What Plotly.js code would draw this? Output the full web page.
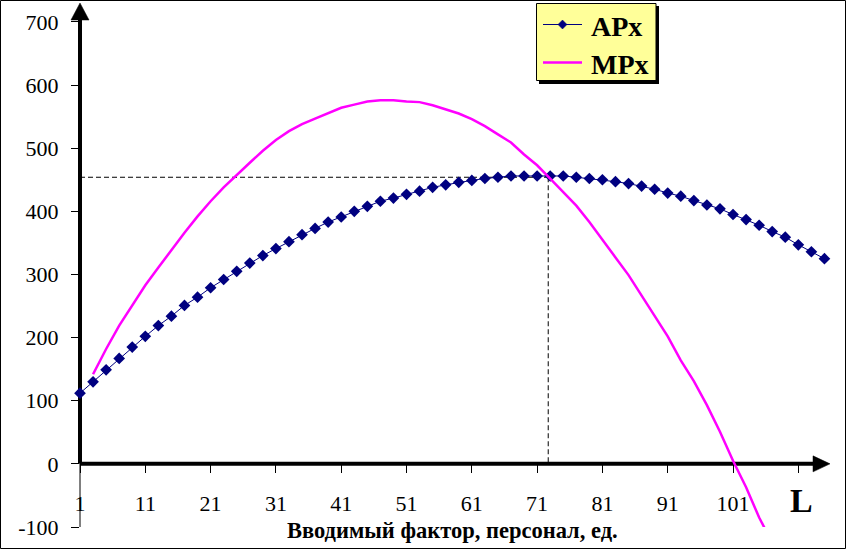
<!DOCTYPE html>
<html>
<head>
<meta charset="utf-8">
<script src="https://cdn.plot.ly/plotly-3.0.1.min.js"></script>
<style>
html,body{margin:0;padding:0;background:#fff;}
#chart{width:846px;height:549px;}
</style>
</head>
<body>
<div id="chart"></div>
<script>
// ---- data ----
const apxL = [1,3,5,7,9,11,13,15,17,19,21,23,25,27,29,31,33,35,37,39,41,43,45,47,49,51,53,55,57,59,
              61,63,65,67,69,71,73,75,77,79,81,83,85,87,89,91,93,95,97,99,101,103,105,107,109,111,113,115];
const apxValues = [112,130,149,167,185,202,219,234,251,264,279,292,305,318,330,341,352,363,373,383,
                   391,400,408,416,421,427,432,438,442,446,449,452,454,456,456,456,456,456,454,452,
                   450,447,444,440,435,429,424,417,410,404,395,387,378,368,359,347,336,325];
const mpxL = [3,5,7,9,11,13,15,17,19,21,23,25,27,29,31,33,35,37,39,41,43,45,47,49,51,53,55,57,59,61,
              63,65,67,69,71,73,75,77,79,81,83,85,87,89,91,93,95,97,99,101,103,105,107];
const mpxValues = [142,182,219,252,283,311,339,366,392,416,438,458,477,496,513,527,538,547,556,564,
                   569,574,576,576,574,573,568,561,555,546,535,522,509,490,473,452,431,409,383,354,
                   327,299,266,235,202,164,131,93,51,5,-37,-85,-125];
const xTickVals = [1,11,21,31,41,51,61,71,81,91,101,111];
const xTickText = ['1','11','21','31','41','51','61','71','81','91','101',''];
const yTickVals = [-100,0,100,200,300,400,500,600,700];
const yTickText = ['-100','0','100','200','300','400','500','600','700'];
const apxMax = 454;   // level of the horizontal dashed guide
const lStar = 72.7;   // position of the vertical dashed guide
const seriesNames = ['APx','MPx'];
const seriesColors = ['#000080','#FF00FF'];
const xTitle = 'Вводимый фактор, персонал, ед.';
const axisLetter = 'L';

// ---- geometry ----
const W = 846, H = 549;
const M = {l:80, r:16, t:3, b:22};
const PW = W - M.l - M.r, PH = H - M.t - M.b;
const xMin = 1, xMax = 115.85, yMin = -100, yMax = 730;
const px = L => (L - xMin) / (xMax - xMin);
const py = v => (v - yMin) / (yMax - yMin);
const dxp = p => p / PW;
const dyp = p => p / PH;
const pixX = X => (X - M.l) / PW;
const pixY = Y => (H - M.b - Y) / PH;

const FONT = "'Liberation Serif', 'Times New Roman', serif";

const traces = [
  {x: apxL, y: apxValues, name: seriesNames[0], type: 'scatter', mode: 'lines+markers',
   line: {color: seriesColors[0], width: 1}, cliponaxis: false,
   marker: {symbol: 'diamond', size: 9, color: seriesColors[0]}},
  {x: mpxL, y: mpxValues, name: seriesNames[1], type: 'scatter', mode: 'lines',
   line: {color: seriesColors[1], width: 2.5}}
];

const x0 = px(1), yz = py(0);
const yTip = py(yMax), xTip = px(xMax);
const dash = {color:'#000', width:1, dash:'5px,3px'};
const shapes = [
  // y axis: thick part above zero, thin part below
  {type:'line', xref:'paper', yref:'paper', x0:x0, x1:x0, y0:yz, y1:yTip - dyp(17), line:{color:'#000', width:4}, layer:'below'},
  {type:'line', xref:'paper', yref:'paper', x0:x0, x1:x0, y0:py(-100), y1:yz, line:{color:'#000', width:1}, layer:'below'},
  {type:'path', xref:'paper', yref:'paper',
   path:`M ${x0 - dxp(9)} ${yTip - dyp(17)} L ${x0} ${yTip} L ${x0 + dxp(9)} ${yTip - dyp(17)} Z`,
   fillcolor:'#000', line:{color:'#000', width:0.5}, layer:'below'},
  // x axis with arrow
  {type:'line', xref:'paper', yref:'paper', x0:x0, x1:xTip - dxp(17), y0:yz, y1:yz, line:{color:'#000', width:4}, layer:'below'},
  {type:'path', xref:'paper', yref:'paper',
   path:`M ${xTip - dxp(17)} ${yz + dyp(8)} L ${xTip} ${yz} L ${xTip - dxp(17)} ${yz - dyp(8)} Z`,
   fillcolor:'#000', line:{color:'#000', width:0.5}, layer:'below'},
  // dashed guides
  {type:'line', xref:'x', yref:'y', x0:1, x1:lStar, y0:apxMax, y1:apxMax, line:dash, layer:'below'},
  {type:'line', xref:'x', yref:'y', x0:lStar, x1:lStar, y0:apxMax, y1:0, line:dash, layer:'below'},
  // legend box: shadow, yellow box
  {type:'rect', xref:'paper', yref:'paper', x0:pixX(539), x1:pixX(659), y0:pixY(84), y1:pixY(6),
   fillcolor:'#000', line:{width:0}, layer:'above'},
  {type:'rect', xref:'paper', yref:'paper', x0:pixX(536.5), x1:pixX(656), y0:pixY(80.5), y1:pixY(3.5),
   fillcolor:'#FFFF99', line:{color:'#000', width:1}, layer:'above'},
  // legend samples
  {type:'line', xref:'paper', yref:'paper', x0:pixX(543), x1:pixX(582), y0:pixY(24.5), y1:pixY(24.5),
   line:{color:seriesColors[0], width:1}, layer:'above'},
  {type:'path', xref:'paper', yref:'paper',
   path:`M ${pixX(562.5-4.5)} ${pixY(24.5)} L ${pixX(562.5)} ${pixY(20)} L ${pixX(562.5+4.5)} ${pixY(24.5)} L ${pixX(562.5)} ${pixY(29)} Z`,
   fillcolor:seriesColors[0], line:{color:seriesColors[0], width:0.5}, layer:'above'},
  {type:'line', xref:'paper', yref:'paper', x0:pixX(543), x1:pixX(582), y0:pixY(62.5), y1:pixY(62.5),
   line:{color:seriesColors[1], width:2.5}, layer:'above'},
  // outer frame
  {type:'rect', xref:'paper', yref:'paper', x0:pixX(0.5), x1:pixX(845.5), y0:pixY(548.5), y1:pixY(0.5),
   fillcolor:'rgba(0,0,0,0)', line:{color:'#000', width:1}, layer:'above'}
];

const layout = {
  width: W, height: H,
  margin: {l:M.l, r:M.r, t:M.t, b:M.b, pad:0},
  paper_bgcolor: '#fff', plot_bgcolor: 'rgba(0,0,0,0)',
  font: {family: FONT, color: '#000', size: 22},
  showlegend: false,
  xaxis: {type: 'linear', range: [xMin, xMax], anchor: 'free', position: py(0),
          showgrid: false, zeroline: false, showline: false,
          ticks: 'outside', ticklen: 8, tickwidth: 1, tickcolor: '#000',
          tickmode: 'array', tickvals: xTickVals, ticktext: xTickText,
          tickfont: {family: FONT, size: 22, color: '#000'}, ticklabelstandoff: 12,
          automargin: false, fixedrange: true},
  yaxis: {range: [yMin, yMax], showgrid: false, zeroline: false, showline: false,
          ticks: 'outside', ticklen: 8, tickwidth: 1, tickcolor: '#000',
          tickmode: 'array', tickvals: yTickVals, ticktext: yTickText,
          tickfont: {family: FONT, size: 22, color: '#000'}, ticklabelstandoff: 8,
          automargin: false, fixedrange: true},
  shapes: shapes,
  annotations: [
    {text: xTitle, xref: 'paper', yref: 'paper', x: pixX(452), y: pixY(530), showarrow: false,
     xanchor: 'center', yanchor: 'middle', font: {family: FONT, size: 22.5, color: '#000', weight: 'bold'}},
    {text: axisLetter, xref: 'paper', yref: 'paper', x: pixX(801), y: pixY(500), showarrow: false,
     xanchor: 'center', yanchor: 'middle', font: {family: FONT, size: 34, color: '#000', weight: 'bold'}},
    {text: seriesNames[0], xref: 'paper', yref: 'paper', x: pixX(589), y: pixY(26.5), showarrow: false,
     xanchor: 'left', yanchor: 'middle', font: {family: FONT, size: 28, color: '#000', weight: 'bold'}},
    {text: seriesNames[1], xref: 'paper', yref: 'paper', x: pixX(589), y: pixY(64), showarrow: false,
     xanchor: 'left', yanchor: 'middle', font: {family: FONT, size: 28, color: '#000', weight: 'bold'}}
  ],
  hovermode: false
};

Plotly.newPlot('chart', traces, layout, {displayModeBar: false, staticPlot: true});
</script>
</body>
</html>
